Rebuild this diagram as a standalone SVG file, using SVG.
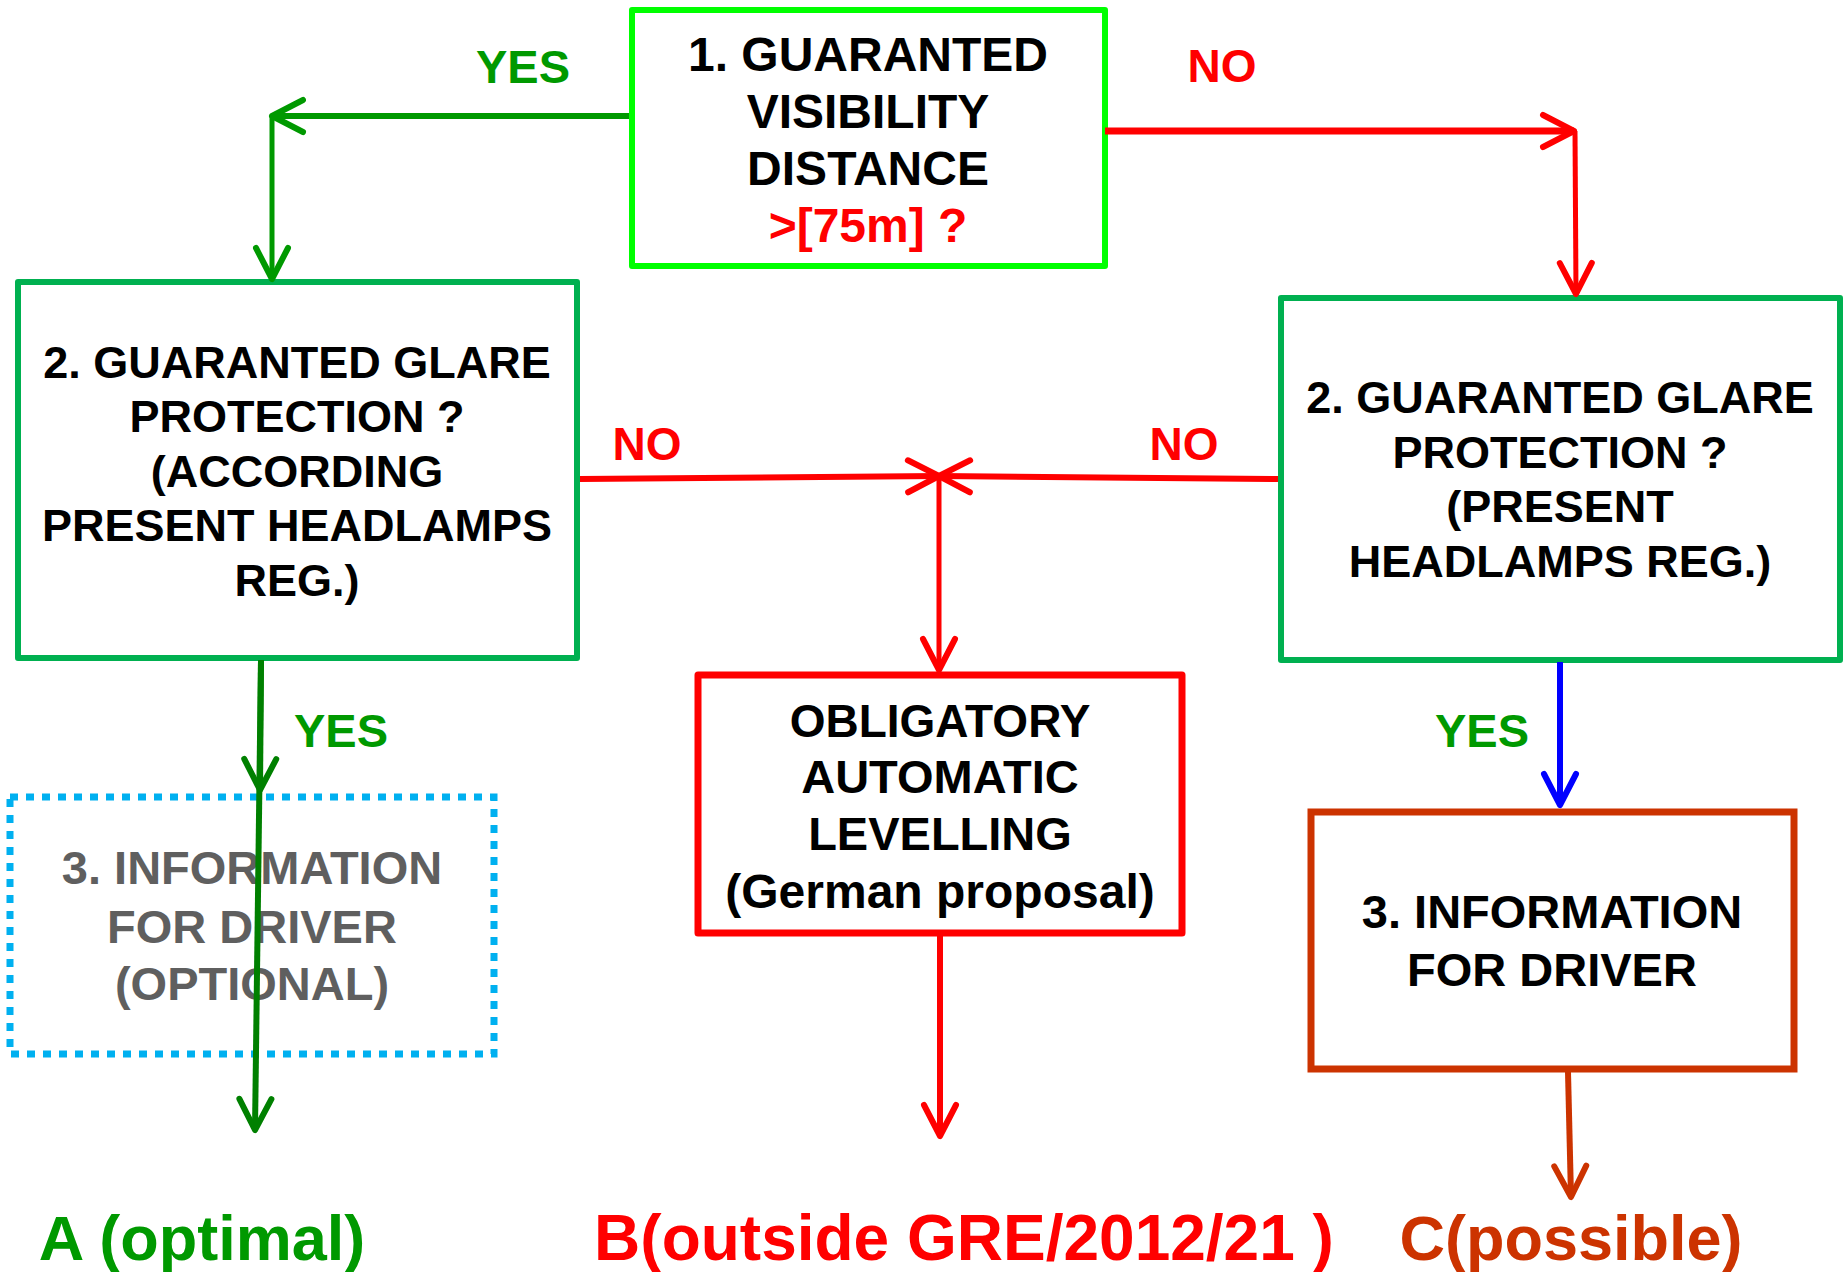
<svg xmlns="http://www.w3.org/2000/svg" width="1846" height="1272" viewBox="0 0 1846 1272">
<style>
text { font-family: "Liberation Sans", Arial, sans-serif; font-weight: bold; text-anchor: middle; }
.box { fill: #ffffff; stroke-width: 6; stroke-linejoin: round; }
.b1 { stroke: #00FF00; }
.b2 { stroke: #00B050; }
.b4 { stroke: #FF0000; stroke-width: 7; }
.b5 { stroke: #CC3300; stroke-width: 7; stroke-linejoin: miter; }
.bd { fill: none; stroke: #00B0F0; stroke-width: 7; stroke-dasharray: 8 8; }
.t48 { font-size: 48px; fill: #000; }
.t45 { font-size: 45px; fill: #000; }
.t47 { font-size: 47px; fill: #000; }
.gray { fill: #5F5F5F; }
.red { fill: #FF0000; }
.yes { font-size: 47px; fill: #009900; }
.no { font-size: 46px; fill: #FF0000; }
.big { font-size: 63px; }
.c { fill: none; stroke-linecap: butt; }
.cg1 { stroke: #009900; }
.cg2 { stroke: #008000; }
.cr { stroke: #FF0000; }
.cb { stroke: #0000FF; }
.co { stroke: #CC3300; }
.ah { fill: none; stroke-width: 6; stroke-linecap: round; stroke-linejoin: round; }
</style>
<defs>
<marker id="m-g1" markerUnits="userSpaceOnUse" viewBox="-40 -40 80 80" markerWidth="80" markerHeight="80" refX="0" refY="0" orient="auto"><path class="ah" stroke="#009900" d="M-31,-16 L0,0 L-31,16"/></marker>
<marker id="m-g2" markerUnits="userSpaceOnUse" viewBox="-40 -40 80 80" markerWidth="80" markerHeight="80" refX="0" refY="0" orient="auto"><path class="ah" stroke="#008000" d="M-31,-16 L0,0 L-31,16"/></marker>
<marker id="m-r" markerUnits="userSpaceOnUse" viewBox="-40 -40 80 80" markerWidth="80" markerHeight="80" refX="0" refY="0" orient="auto"><path class="ah" stroke="#FF0000" d="M-31,-16 L0,0 L-31,16"/></marker>
<marker id="m-b" markerUnits="userSpaceOnUse" viewBox="-40 -40 80 80" markerWidth="80" markerHeight="80" refX="0" refY="0" orient="auto"><path class="ah" stroke="#0000FF" d="M-31,-16 L0,0 L-31,16"/></marker>
<marker id="m-o" markerUnits="userSpaceOnUse" viewBox="-40 -40 80 80" markerWidth="80" markerHeight="80" refX="0" refY="0" orient="auto"><path class="ah" stroke="#CC3300" d="M-31,-16 L0,0 L-31,16"/></marker>
</defs>
<rect x="0" y="0" width="1846" height="1272" fill="#ffffff"/>

<g id="n1-visibility">
<rect class="box b1" x="632" y="10" width="473" height="256"/>
<text class="t48" x="868" y="71">1. GUARANTED</text>
<text class="t48" x="868" y="128">VISIBILITY</text>
<text class="t48" x="868" y="185">DISTANCE</text>
<text class="t48 red" x="868" y="242">&gt;[75m] ?</text>
</g>

<g id="n2-glare-left">
<rect class="box b2" x="18" y="282" width="559" height="376"/>
<text class="t45" x="297" y="378">2. GUARANTED GLARE</text>
<text class="t45" x="297" y="432">PROTECTION ?</text>
<text class="t45" x="297" y="487">(ACCORDING</text>
<text class="t45" x="297" y="541">PRESENT HEADLAMPS</text>
<text class="t45" x="297" y="596">REG.)</text>
</g>

<g id="n3-glare-right">
<rect class="box b2" x="1281" y="298" width="559" height="362"/>
<text class="t45" x="1560" y="413">2. GUARANTED GLARE</text>
<text class="t45" x="1560" y="468">PROTECTION ?</text>
<text class="t45" x="1560" y="522">(PRESENT</text>
<text class="t45" x="1560" y="577">HEADLAMPS REG.)</text>
</g>

<g id="n4-levelling">
<rect class="box b4" x="698" y="675" width="484" height="258"/>
<text class="t47" x="940" y="737" style="font-size:46px">OBLIGATORY</text>
<text class="t47" x="940" y="793">AUTOMATIC</text>
<text class="t47" x="940" y="850">LEVELLING</text>
<text class="t47" x="940" y="908" style="font-size:48px">(German proposal)</text>
</g>

<g id="n5-info-optional">
<rect class="bd" x="10" y="797" width="484" height="257"/>
<text class="t47 gray" x="252" y="884">3. INFORMATION</text>
<text class="t47 gray" x="252" y="943">FOR DRIVER</text>
<text class="t47 gray" x="252" y="1000">(OPTIONAL)</text>
</g>

<g id="n6-info">
<rect class="box b5" x="1311" y="812" width="483" height="257"/>
<text class="t47" x="1552" y="928">3. INFORMATION</text>
<text class="t47" x="1552" y="986">FOR DRIVER</text>
</g>

<g id="connectors">
<path class="c cg1" stroke-width="6" d="M629,116 L272,116" marker-end="url(#m-g1)"/>
<path class="c cg1" stroke-width="5" d="M272,116 L272,279" marker-end="url(#m-g1)"/>
<path class="c cr" stroke-width="7" d="M1105,131 L1574,131" marker-end="url(#m-r)"/>
<path class="c cr" stroke-width="5" d="M1575,131 L1576,294" marker-end="url(#m-r)"/>
<path class="c cr" stroke-width="6" d="M580,479 L939,476" marker-end="url(#m-r)"/>
<path class="c cr" stroke-width="6" d="M1278,479 L939,476" marker-end="url(#m-r)"/>
<path class="c cr" stroke-width="5" d="M939,476 L939,670" marker-end="url(#m-r)"/>
<path class="c cr" stroke-width="6" d="M940,936 L940,1136" marker-end="url(#m-r)"/>
<path class="c cg2" stroke-width="6" d="M261,660 L260,790" marker-end="url(#m-g2)"/>
<path class="c cg2" stroke-width="6" d="M261,660 L255,1130" marker-end="url(#m-g2)"/>
<path class="c cb" stroke-width="6" d="M1560,662 L1560,805" marker-end="url(#m-b)"/>
<path class="c co" stroke-width="6" d="M1568,1072 L1571,1197" marker-end="url(#m-o)"/>
</g>

<g id="labels">
<text class="yes" x="523" y="83">YES</text>
<text class="no" x="1222" y="82">NO</text>
<text class="no" x="647" y="460">NO</text>
<text class="no" x="1184" y="460">NO</text>
<text class="yes" x="341" y="747">YES</text>
<text class="yes" x="1482" y="747">YES</text>
<text class="big" x="202" y="1260" fill="#009900">A (optimal)</text>
<text class="big" x="964" y="1260" fill="#FF0000" style="font-size:64px">B(outside GRE/2012/21 )</text>
<text class="big" x="1571" y="1260" fill="#CC3300">C(possible)</text>
</g>
</svg>
